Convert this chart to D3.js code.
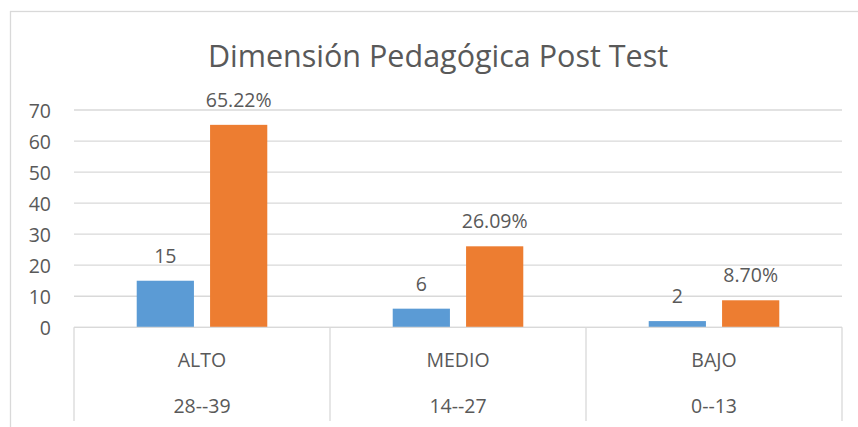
<!DOCTYPE html>
<html>
<head>
<meta charset="utf-8">
<script src="https://cdn.jsdelivr.net/npm/d3@7"></script>
<style>
  html, body { margin: 0; padding: 0; background: #ffffff; }
  svg { display: block; }
  text { font-family: "Open Sans", "Noto Sans", sans-serif; fill: #595959; }
</style>
</head>
<body>
<svg id="chart" width="858" height="427"></svg>
<script>
const title = "Dimensión Pedagógica Post Test";
const categories = ["ALTO", "MEDIO", "BAJO"];
const ranges = ["28--39", "14--27", "0--13"];
const seriesNames = ["Frecuencia", "Porcentaje"];
const frecuencia = [15, 6, 2];
const porcentaje = [65.22, 26.09, 8.70];
const yTicks = [0, 10, 20, 30, 40, 50, 60, 70];
const colors = ["#5B9BD5", "#ED7D31"];

const svg = d3.select("#chart");
const plot = { left: 74, right: 842, top: 110, bottom: 327.3 };
const fs = 19.5;

// outer chart border
svg.append("rect")
  .attr("x", 10.5).attr("y", 11.5)
  .attr("width", 860).attr("height", 440)
  .attr("fill", "#fff").attr("stroke", "#D9D9D9").attr("stroke-width", 1.3);

const x0 = d3.scaleBand().domain(categories).range([plot.left, plot.right]).padding(0);
const bw = x0.bandwidth();
const x1 = d3.scaleBand().domain(seriesNames)
  .range([bw * 0.245, bw * 0.755]).paddingInner(0.22).paddingOuter(0);
const y = d3.scaleLinear().domain([0, 70]).range([plot.bottom, plot.top]);

// gridlines
svg.append("g")
  .selectAll("line").data(yTicks).join("line")
  .attr("x1", plot.left).attr("x2", plot.right)
  .attr("y1", d => y(d)).attr("y2", d => y(d))
  .attr("stroke", "#D9D9D9").attr("stroke-width", 1.3);

// y axis labels
svg.append("g")
  .selectAll("text").data(yTicks).join("text")
  .attr("x", 51).attr("y", d => y(d))
  .attr("text-anchor", "end").attr("dominant-baseline", "central")
  .attr("font-size", fs)
  .text(d => d);

// category separators
const bounds = categories.map(c => x0(c)).concat([plot.right]);
svg.append("g")
  .selectAll("line").data(bounds).join("line")
  .attr("x1", d => d).attr("x2", d => d)
  .attr("y1", plot.bottom).attr("y2", 421)
  .attr("stroke", "#D9D9D9").attr("stroke-width", 1.3);

// bars
const data = categories.map((c, i) => ({ cat: c, vals: [frecuencia[i], porcentaje[i]] }));
const groups = svg.append("g").selectAll("g").data(data).join("g")
  .attr("transform", d => `translate(${x0(d.cat)},0)`);

groups.selectAll("rect").data(d => d.vals.map((v, j) => ({ v, s: seriesNames[j], j })))
  .join("rect")
  .attr("x", d => x1(d.s))
  .attr("width", x1.bandwidth())
  .attr("y", d => y(d.v))
  .attr("height", d => y(0) - y(d.v))
  .attr("fill", d => colors[d.j]);

groups.selectAll("text").data(d => d.vals.map((v, j) => ({ v, s: seriesNames[j], j })))
  .join("text")
  .attr("x", d => x1(d.s) + x1.bandwidth() / 2)
  .attr("y", d => y(d.v) - 18)
  .attr("text-anchor", "middle")
  .attr("font-size", fs)
  .text(d => d.j === 1 ? d.v.toFixed(2) + "%" : d.v);

// x axis line
svg.append("line")
  .attr("x1", plot.left).attr("x2", plot.right)
  .attr("y1", plot.bottom).attr("y2", plot.bottom)
  .attr("stroke", "#D9D9D9").attr("stroke-width", 1.3);

// category labels (two levels)
svg.append("g").selectAll("text").data(categories).join("text")
  .attr("x", d => x0(d) + bw / 2).attr("y", 367)
  .attr("text-anchor", "middle").attr("font-size", fs)
  .text(d => d);
svg.append("g").selectAll("text").data(ranges).join("text")
  .attr("x", (d, i) => x0(categories[i]) + bw / 2).attr("y", 413)
  .attr("text-anchor", "middle").attr("font-size", fs)
  .text(d => d);

// title
svg.append("text")
  .attr("x", 438).attr("y", 67)
  .attr("text-anchor", "middle")
  .attr("font-size", 30.5)
  .text(title);
</script>
</body>
</html>
